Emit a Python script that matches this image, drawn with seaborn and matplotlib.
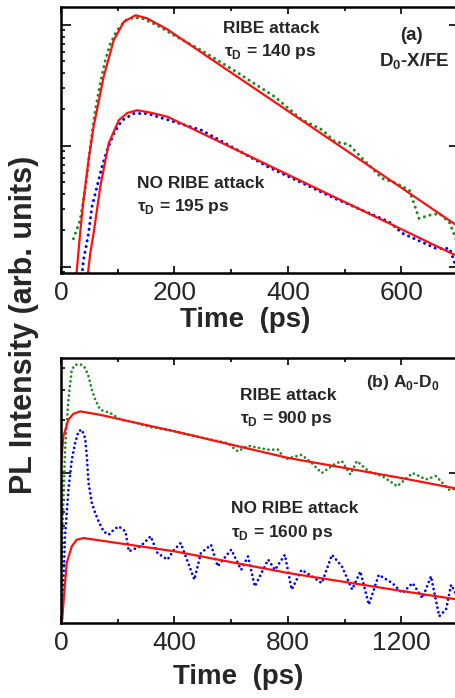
import matplotlib
matplotlib.use("Agg")
import matplotlib.pyplot as plt
from matplotlib.ticker import NullFormatter, MultipleLocator
import seaborn as sns

sns.set_style("ticks")
plt.rcParams["font.family"] = ["Liberation Sans", "DejaVu Sans"]
plt.rcParams["mathtext.fontset"] = "custom"
plt.rcParams["mathtext.rm"] = "Liberation Sans:bold"
plt.rcParams["mathtext.bf"] = "Liberation Sans:bold"

GREEN = "#1f8a1f"
BLUE = "#0000ff"
RED = "#ff1010"

# ---- panel (a): D0-X/FE ----
a_ribe_t = [21.9, 33.7, 39.6, 45.6, 51.5, 60.4, 69.2, 78.1, 87, 98.8, 113.6, 128.4, 143.2,
            170, 199, 247, 306, 377, 424, 460, 483, 507, 531, 566, 590, 614, 631, 649,
            667, 685, 699]
a_ribe_pl = [0.171, 0.243, 0.356, 0.554, 0.98, 1.97, 3.27, 5.1, 7.0, 9.0, 10.9, 11.5, 11.3,
             9.9, 8.2, 6.17, 4.17, 2.54, 1.65, 1.36, 1.08, 1.03, 0.786, 0.537, 0.494, 0.43,
             0.251, 0.267, 0.276, 0.231, 0.156]
a_ribe_fit_t = [27, 33.7, 39.6, 48.5, 57.4, 75.1, 92.9, 110.7, 131.4, 152, 187.6, 400, 600, 701]
a_ribe_fit = [0.085, 0.19, 0.356, 0.76, 1.44, 3.71, 7.47, 10.6, 12.0, 11.3, 9.15, 1.94, 0.45, 0.214]

a_no_t = [36.7, 39.6, 48.5, 54.4, 63.3, 72.2, 81.1, 92.9, 107.7, 128.4, 152, 247, 365, 483,
          578, 602, 661, 685, 696]
a_no_pl = [0.085, 0.114, 0.189, 0.313, 0.458, 0.67, 0.92, 1.26, 1.63, 1.85, 1.85, 1.35, 0.67,
           0.367, 0.236, 0.189, 0.142, 0.142, 0.1]
a_no_fit_t = [47, 51.5, 57.4, 69.2, 84, 101.8, 116.6, 134.3, 158, 187.6, 701]
a_no_fit = [0.085, 0.129, 0.189, 0.458, 1.05, 1.63, 1.87, 1.97, 1.88, 1.74, 0.121]

# ---- panel (b): A0-D0 ----
b_ribe_t = [2.4, 8.3, 14.2, 26, 37.9, 49.7, 73.3, 85.2, 97, 108.8, 120.7, 138, 156, 174, 209,
            257, 316, 375, 470, 529, 588, 623, 659, 730, 765, 789, 848, 884, 919, 967, 990,
            1020, 1043, 1085, 1132, 1185, 1239, 1286, 1321, 1369, 1402]
b_ribe_pl = [0.293, 0.70, 1.36, 2.62, 3.89, 4.16, 4.16, 3.98, 3.57, 2.99, 2.62, 2.30, 2.25,
             2.20, 2.02, 1.95, 1.83, 1.77, 1.63, 1.55, 1.48, 1.33, 1.43, 1.36, 1.36, 1.20,
             1.27, 1.14, 1.0, 1.13, 1.17, 0.98, 1.17, 1.02, 0.96, 0.84, 1.0, 0.92, 0.96,
             0.80, 0.82]
b_ribe_fit_t = [0, 8.3, 26, 43.8, 67.4, 138, 400, 800, 1200, 1402]
b_ribe_fit = [1.12, 1.62, 2.02, 2.18, 2.25, 2.15, 1.73, 1.22, 0.936, 0.81]

b_no_t = [2.4, 8.3, 14.2, 26, 37.9, 49.7, 61.5, 73.3, 85.2, 91, 97, 108.8, 120.7, 132.5, 150,
          168, 186, 203, 227, 239, 280, 316, 340, 375, 399, 422, 470, 493, 529, 552, 600,
          635, 659, 683, 730, 754, 789, 813, 848, 884, 919, 955, 990, 1026, 1055, 1085,
          1120, 1168, 1203, 1239, 1274, 1304, 1333, 1357, 1375, 1402]
b_no_pl = [0.139, 0.235, 0.435, 0.80, 1.19, 1.48, 1.73, 1.77, 1.58, 1.24, 0.877, 0.674, 0.59,
           0.53, 0.464, 0.444, 0.474, 0.496, 0.464, 0.357, 0.381, 0.435, 0.349, 0.32, 0.365,
           0.398, 0.246, 0.349, 0.389, 0.293, 0.365, 0.28, 0.334, 0.225, 0.32, 0.28, 0.341,
           0.216, 0.28, 0.257, 0.235, 0.341, 0.293, 0.216, 0.274, 0.177, 0.262, 0.235, 0.206,
           0.235, 0.193, 0.257, 0.152, 0.166, 0.23, 0.189]
b_no_fit_t = [0, 14.2, 20, 37.9, 55.6, 79.3, 400, 803, 1208, 1402]
b_no_fit = [0.12, 0.235, 0.306, 0.381, 0.416, 0.425, 0.357, 0.268, 0.211, 0.189]

fig = plt.figure(figsize=(4.56, 6.98), dpi=100)
# right spine sits just past the right edge of the picture, as in the reference
ax_a = fig.add_axes([0.1338, 0.6089, 0.8728, 0.3811])
ax_b = fig.add_axes([0.1338, 0.1074, 0.8728, 0.3797])

dots_a = dict(lw=2.2, linestyle=(0, (0.01, 1.9)), dash_capstyle="round")
dots_b = dict(lw=2.0, linestyle=(0, (0.01, 1.7)), dash_capstyle="round")

sns.lineplot(x=a_ribe_t, y=a_ribe_pl, ax=ax_a, color=GREEN, **dots_a)
sns.lineplot(x=a_no_t, y=a_no_pl, ax=ax_a, color=BLUE, **dots_a)
sns.lineplot(x=a_ribe_fit_t, y=a_ribe_fit, ax=ax_a, color=RED, lw=1.6)
sns.lineplot(x=a_no_fit_t, y=a_no_fit, ax=ax_a, color=RED, lw=1.6)

sns.lineplot(x=b_ribe_t, y=b_ribe_pl, ax=ax_b, color=GREEN, **dots_b)
sns.lineplot(x=b_no_t, y=b_no_pl, ax=ax_b, color=BLUE, **dots_b)
sns.lineplot(x=b_ribe_fit_t, y=b_ribe_fit, ax=ax_b, color=RED, lw=1.6)
sns.lineplot(x=b_no_fit_t, y=b_no_fit, ax=ax_b, color=RED, lw=1.6)

for ax, xmax, major, minor, ylim in [(ax_a, 701.4, 200, 100, (0.089, 14.05)),
                                     (ax_b, 1402.8, 400, 200, (0.139, 4.54))]:
    ax.set_yscale("log")
    ax.set_xlim(0, xmax)
    ax.set_ylim(*ylim)
    ax.xaxis.set_major_locator(MultipleLocator(major))
    ax.xaxis.set_minor_locator(MultipleLocator(minor))
    ax.yaxis.set_major_formatter(NullFormatter())
    ax.yaxis.set_minor_formatter(NullFormatter())
    ax.tick_params(which="both", direction="in", top=True, right=True, width=1.4,
                   labelsize=19, pad=6)
    ax.tick_params(which="major", length=5)
    ax.tick_params(which="minor", length=3)
    ax.tick_params(axis="y", which="major", length=7)
    for s in ax.spines.values():
        s.set_linewidth(1.8)
        s.set_color("black")
    ax.set_xlabel("")
    ax.set_ylabel("")

tk = dict(fontsize=12.5, fontweight="bold", va="center")
tk_big = dict(tk, fontsize=13.5)
ax_a.text(285, 9.4, "RIBE attack", **tk)
ax_a.text(287, 6.07, "τ$_{\\mathrm{D}}$ = 140 ps", **tk)
ax_a.text(617, 8.2, "(a)", ha="center", **tk_big)
ax_a.text(622, 4.92, "D$_{\\mathrm{0}}$-X/FE", ha="center", **tk_big)
ax_a.text(134, 0.49, "NO RIBE attack", **tk)
ax_a.text(134, 0.316, "τ$_{\\mathrm{D}}$ = 195 ps", **tk)

ax_b.text(1075, 3.27, "(b) A$_{\\mathrm{0}}$-D$_{\\mathrm{0}}$", **tk)
ax_b.text(631, 2.79, "RIBE attack", **tk)
ax_b.text(631, 2.06, "τ$_{\\mathrm{D}}$ = 900 ps", **tk)
ax_b.text(599, 0.623, "NO RIBE attack", **tk)
ax_b.text(599, 0.46, "τ$_{\\mathrm{D}}$ = 1600 ps", **tk)

fig.text(245 / 456, 1 - 320 / 698, "Time  (ps)", fontsize=20, fontweight="bold",
         ha="center", va="center")
fig.text(238 / 456, 1 - 677 / 698, "Time  (ps)", fontsize=20, fontweight="bold",
         ha="center", va="center")
fig.text(24 / 456, 1 - 325 / 698, "PL Intensity (arb. units)", fontsize=22,
         fontweight="bold", rotation=90, ha="center", va="center")

fig.savefig("out.png", dpi=100)
plt.close(fig)
